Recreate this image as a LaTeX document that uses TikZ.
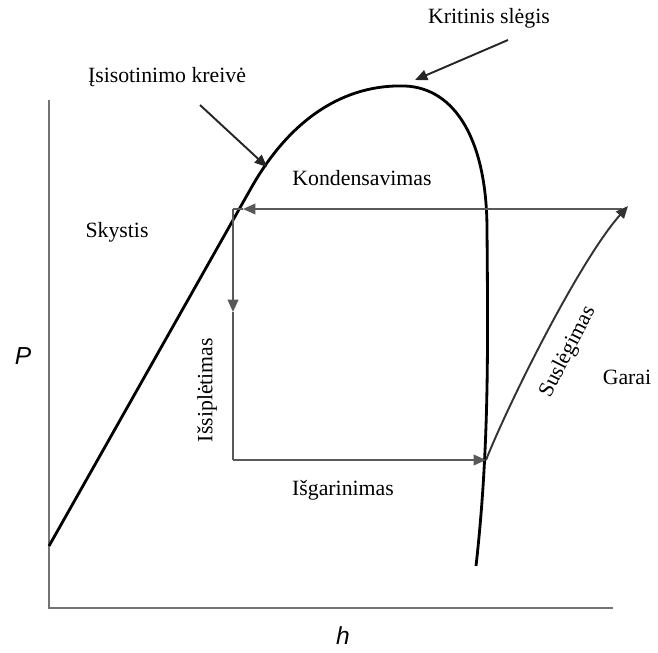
\documentclass[tikz,border=0pt]{standalone}
\usepackage{fontspec}
\setmainfont{Liberation Serif}
\setsansfont{Liberation Sans}
\usetikzlibrary{arrows.meta}

\begin{document}
\begin{tikzpicture}[x=0.02cm,y=-0.02cm,
  lbl/.style={font=\fontsize{12.4}{14}\selectfont},
  axlbl/.style={font=\fontsize{14}{16}\selectfont\sffamily\itshape},
  tip/.style={-{Triangle[length=7pt,width=6pt]}},
  cyc/.style={draw=black!65,line width=1.1pt}]
\useasboundingbox (0,0) rectangle (658,652);
% axes
\coordinate (O) at (49,608);
\coordinate (Ptop) at (49,100);
\coordinate (Hend) at (613,608);
\draw[black!55,line width=1.2pt] (Ptop) -- (O) -- (Hend);
\node[axlbl] (P) at (23,356) {P};
\node[axlbl] (h) at (343,636) {h};
% saturation curve
\coordinate (S0) at (49,546);
\coordinate (S1) at (250,190);
\coordinate (Top) at (405,86);
\coordinate (S2) at (487,230);
\coordinate (S3) at (476,566);
\draw[black,line width=1.6pt] (S0) -- (S1)
  .. controls (290,118) and (345,84) .. (Top)
  .. controls (455,88) and (487,140) .. (S2)
  .. controls (488,350) and (489,450) .. (S3);
% cycle
\coordinate (A) at (233,209);
\coordinate (Atip) at (243,209);
\coordinate (B) at (622,209);
\coordinate (Btip) at (628,206);
\coordinate (C) at (233,460);
\coordinate (Cmid) at (233,312);
\coordinate (D) at (486,460);
\draw[cyc,tip] (B) -- (Atip);
\draw[cyc] (Atip) -- (A);
\draw[cyc,tip] (A) -- (Cmid);
\draw[cyc] (Cmid) -- (C);
\draw[cyc,tip] (C) -- (D);
\draw[cyc,draw=black!80,tip] (D) .. controls (510,400) and (580,260) .. (Btip);
% labels
\node[lbl] (krit) at (489,18) {Kritinis slėgis};
\coordinate (k1) at (508,40);
\coordinate (k2) at (415,80);
\draw[black!85,line width=1.1pt,tip] (k1) -- (k2);
\node[lbl] (isot) at (167,77) {Įsisotinimo kreivė};
\coordinate (i1) at (200,105);
\coordinate (i2) at (267,167);
\draw[black!85,line width=1.1pt,tip] (i1) -- (i2);
\node[lbl] (skys) at (117,232) {Skystis};
\node[lbl] (kond) at (362,178) {Kondensavimas};
\node[lbl,rotate=90] (issi) at (207,390) {Išsiplėtimas};
\node[lbl] (isg) at (343,490) {Išgarinimas};
\node[lbl,rotate=63] (susl) at (568,352) {Suslėgimas};
\node[lbl] (garai) at (627,377) {Garai};
\end{tikzpicture}
\end{document}
